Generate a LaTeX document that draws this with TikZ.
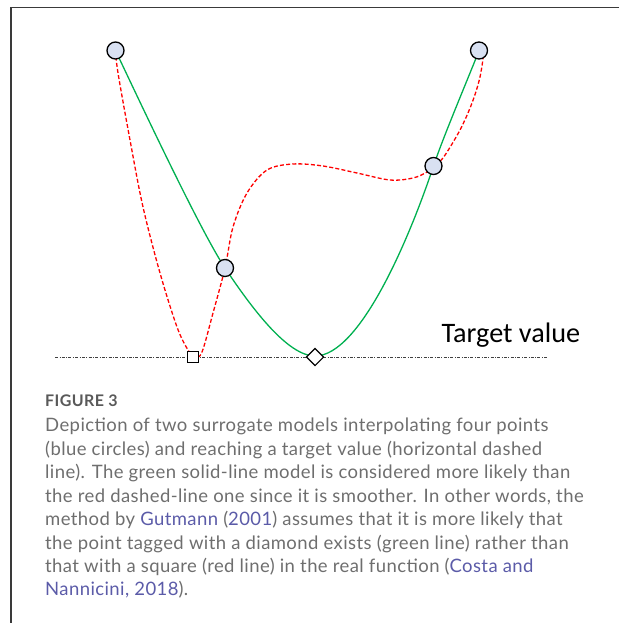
\documentclass[tikz,border=0pt]{standalone}
\usepackage{fontspec}
\newfontfamily\capfont{Lato}
\newfontfamily\tgtfont{Carlito}
\usetikzlibrary{shapes.geometric}
\definecolor{capgray}{HTML}{6E6E6E}
\definecolor{figgray}{HTML}{595959}
\definecolor{linkblue}{HTML}{5B5BA8}
\definecolor{ptfill}{HTML}{D9E1F2}
\definecolor{mgreen}{HTML}{00B050}
\definecolor{framegray}{HTML}{3A3A3A}
\tikzset{
  pt/.style={circle, draw=black, line width=1.3pt, fill=ptfill, minimum size=17pt, inner sep=0pt},
  sqmark/.style={rectangle, draw=black, line width=1.1pt, fill=white, minimum size=11.5pt, inner sep=0pt},
  dmmark/.style={diamond, draw=black, line width=1.1pt, fill=white, minimum size=17.5pt, inner sep=0pt},
  greencurve/.style={draw=mgreen, line width=1.3pt},
  redcurve/.style={draw=red, line width=1.3pt, dash pattern=on 4pt off 2.2pt},
  targetline/.style={draw=black!75, line width=0.6pt, dash pattern=on 3pt off 1.5pt on 0.7pt off 1.5pt},
  capline/.style={anchor=base west, inner sep=0pt, text=capgray, font=\capfont\fontsize{18.5}{22}\selectfont\addfontfeature{LetterSpace=2.2}},
  frameline/.style={draw=framegray, line width=1.4pt}
}
\begin{document}
\begin{tikzpicture}[x=1pt,y=-1pt]
\useasboundingbox (0,0) rectangle (619,623);
% frame
\coordinate (fr0) at (11,7.5);
\coordinate (fr1) at (619,7.5);
\coordinate (fr2) at (11,623);
\draw[frameline] (fr1) -- (fr0) -- (fr2);
% point positions
\coordinate (p1) at (115.5,50.5);
\coordinate (p2) at (479,50.5);
\coordinate (p3) at (433.5,166);
\coordinate (p4) at (225,268);
\coordinate (sq) at (193,357);
\coordinate (dm) at (315,357);
\coordinate (gmin) at (315,356);
\coordinate (tl0) at (55,357);
\coordinate (tl1) at (547,357);
% target line
\draw[targetline] (tl0) -- (tl1);
% green model
\draw[greencurve] (p1) .. controls (135.5,92.5) and (200,230.5) .. (p4)
  .. controls (253,310) and (288,356) .. (gmin)
  .. controls (360,356) and (409.5,238) .. (p3)
  .. controls (443.5,136) and (470,74) .. (p2);
% red model
\draw[redcurve] plot[smooth, tension=0.55] coordinates {(p1) (118,73) (130,140) (143,207) (160,273) (177,327) (188,350) (195,357) (202,352) (213,313) (p4) (233,227) (247,193) (267,170) (293,164) (323,166) (357,173) (390,180) (413,178) (427,172) (p3) (443,158) (460,130) (472,103) (480,77) (484.5,48)};
% markers
\node[sqmark] (sqm) at (sq) {};
\node[dmmark] (dmm) at (dm) {};
\node[pt] (c1) at (p1) {};
\node[pt] (c2) at (p2) {};
\node[pt] (c3) at (p3) {};
\node[pt] (c4) at (p4) {};
\node[anchor=base west, inner sep=0pt, font=\tgtfont\fontsize{28.2}{30}\selectfont] (tv) at (441.5,342) {Target value};
% caption
\node[anchor=base west, inner sep=0pt, text=figgray, font=\capfont\bfseries\fontsize{16}{18}\selectfont\addfontfeature{LetterSpace=2.6}] (fig) at (45,406) {FIGURE 3};
\node[capline] (l1) at (45,431.5) {Depiction of two surrogate models interpolating four points};
\node[capline] (l2) at (45,455) {(blue circles) and reaching a target value (horizontal dashed};
\node[capline] (l3) at (45,478.5) {line). The green solid-line model is considered more likely than};
\node[capline] (l4) at (45,502) {the red dashed-line one since it is smoother. In other words, the};
\node[capline] (l5) at (45,525.5) {method by \textcolor{linkblue}{Gutmann} (\textcolor{linkblue}{2001}) assumes that it is more likely that};
\node[capline] (l6) at (45,549) {the point tagged with a diamond exists (green line) rather than};
\node[capline] (l7) at (45,572.5) {that with a square (red line) in the real function (\textcolor{linkblue}{Costa and}};
\node[capline] (l8) at (45,595.5) {\textcolor{linkblue}{Nannicini, 2018}).};
\end{tikzpicture}
\end{document}
